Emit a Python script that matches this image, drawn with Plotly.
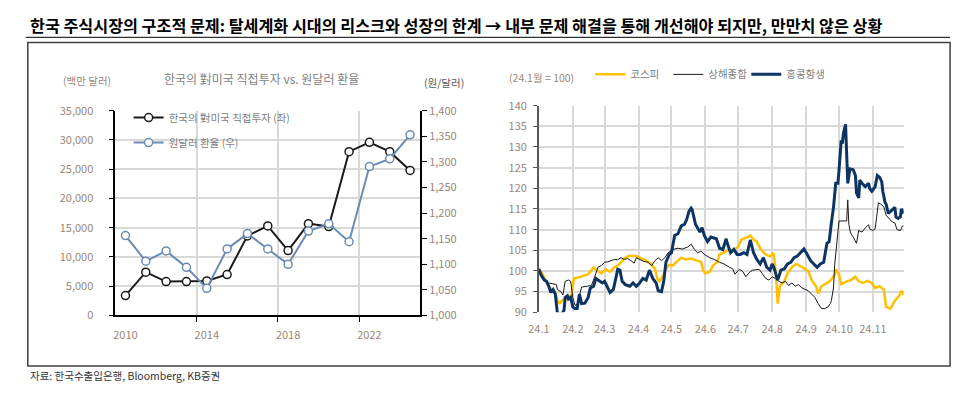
import plotly.graph_objects as go
import pandas as pd

# ---------------- Left chart data ----------------
years = list(range(2010, 2025))
fdi_usd_mn = [3400, 7400, 5800, 5800, 5900, 7000, 13600, 15300, 11100, 15700,
              15200, 28000, 29600, 28000, 24800]
krw_usd = [1156, 1106, 1126, 1094, 1053, 1130, 1160, 1130, 1100, 1165,
           1179, 1144, 1291, 1306, 1353]
left_xtick_years = [2010, 2014, 2018, 2022]
left_grid_years = [2013.5, 2017.5, 2021.5]

# ---------------- Right chart data (days after 2024-01-01, index 24.1 = 100) ----------------
month_ticks = ['2024-01-01', '2024-02-01', '2024-03-01', '2024-04-01', '2024-05-01', '2024-06-01',
               '2024-07-01', '2024-08-01', '2024-09-01', '2024-10-01', '2024-11-01']
month_labels = ['24.1', '24.2', '24.3', '24.4', '24.5', '24.6', '24.7', '24.8', '24.9', '24.10', '24.11']

kospi_day = [0, 3, 6, 9, 12, 15, 17, 19, 23, 27, 30, 32, 36, 41, 45, 48, 50, 53, 57, 61,
             65, 69, 72, 75, 79, 82, 89, 94, 98, 103, 106, 108, 110, 113, 116, 119, 122, 127, 130, 134,
             139, 144, 148, 150, 152, 156, 159, 163, 165, 169, 174, 178, 182, 185, 190, 193, 196, 199, 202, 206,
             211, 214, 215, 217, 218, 220, 224, 227, 231, 235, 239, 243, 246, 249, 253, 255, 258, 261, 266, 270,
             271, 274, 276, 281, 285, 289, 292, 296, 300, 304, 307, 311, 315, 317, 321, 325, 329, 331, 333]
kospi_val = [100.5, 99.4, 97.8, 96.3, 95.5, 94.8, 92.7, 92.2, 93.2, 93.6,
             94.4, 98.2, 98.4, 98.8, 99.2, 100.2, 100.9, 100.2, 99.4, 100.4,
             99.8, 100.9, 101.3, 102.1, 103.2, 103.6, 103.6, 103.0, 102.5, 101.5,
             100.5, 98.2, 97.5, 98.6, 100.5, 101.5, 101.3, 102.5, 103.2, 102.8,
             103.0, 102.5, 102.2, 100.2, 99.4, 99.8, 101.3, 102.2, 104.0, 104.5,
             105.2, 105.0, 105.9, 107.6, 108.1, 108.6, 107.6, 107.1, 105.5, 104.2,
             103.5, 104.4, 103.0, 96.7, 92.1, 96.3, 97.5, 99.4, 100.9, 101.7,
             101.2, 100.5, 99.9, 97.8, 96.3, 94.5, 96.3, 96.8, 97.6, 99.0,
             100.4, 99.2, 96.8, 97.5, 97.8, 98.6, 97.5, 97.1, 97.6, 97.1,
             95.9, 96.3, 95.5, 91.3, 90.9, 92.8, 94.0, 95.2, 94.2]

shanghai_day = [0, 3, 6, 9, 14, 16, 17, 20, 22, 24, 27, 29, 31, 33, 35, 37, 39, 44, 48, 51,
                54, 57, 60, 63, 66, 69, 72, 75, 78, 81, 84, 87, 89, 92, 96, 100, 103, 106, 109, 112,
                115, 118, 122, 127, 131, 136, 139, 142, 145, 148, 151, 156, 160, 165, 169, 174, 177, 179, 183, 186,
                189, 192, 195, 198, 201, 204, 207, 210, 213, 216, 219, 222, 225, 228, 231, 234, 237, 240, 243, 246,
                249, 252, 255, 258, 261, 264, 266, 267, 269, 270, 272, 274, 279, 281, 282, 283, 284, 285, 287, 290,
                292, 295, 298, 301, 302, 305, 307, 310, 313, 315, 317, 319, 322, 325, 327, 330, 332, 333]
shanghai_val = [100.5, 99.0, 97.5, 97.1, 96.8, 96.7, 95.5, 95.0, 94.2, 97.5,
                97.8, 97.5, 93.6, 91.7, 91.9, 94.0, 96.1, 96.3, 96.5, 98.6,
                100.9, 101.3, 102.1, 102.2, 102.5, 102.8, 102.7, 103.2, 102.8, 103.0,
                102.5, 101.9, 103.2, 102.8, 102.3, 102.1, 101.3, 102.5, 103.2, 102.5,
                103.2, 104.4, 105.2, 105.5, 105.3, 105.8, 106.5, 105.2, 104.4, 104.8,
                104.0, 103.2, 102.8, 102.1, 101.7, 100.9, 100.5, 99.2, 100.4, 99.9,
                98.6, 99.6, 100.2, 100.3, 100.4, 99.4, 98.2, 97.8, 98.6, 98.2,
                97.5, 97.1, 97.5, 96.5, 97.1, 96.3, 96.7, 95.9, 95.5, 95.2,
                94.4, 93.6, 92.1, 90.9, 90.9, 91.3, 92.1, 92.8, 95.9, 101.3,
                106.7, 112.1, 112.1, 112.1, 117.2, 111.3, 109.8, 109.0, 108.2, 106.7,
                109.8, 109.4, 110.4, 111.2, 110.2, 109.8, 110.2, 116.5, 116.0, 115.5,
                113.5, 112.9, 112.0, 111.6, 110.0, 109.8, 110.9, 110.9]

hangseng_day = [0, 2, 5, 7, 9, 11, 13, 15, 17, 18, 21, 23, 24, 26, 27, 29, 31, 33, 35, 37,
                39, 42, 45, 47, 50, 52, 54, 56, 58, 60, 63, 65, 68, 71, 72, 74, 76, 79, 83, 86,
                89, 92, 95, 98, 101, 104, 107, 109, 112, 114, 116, 119, 121, 124, 127, 130, 133, 135, 137, 139,
                140, 143, 145, 147, 149, 151, 154, 157, 162, 165, 168, 171, 172, 175, 178, 181, 184, 187, 190, 193,
                196, 199, 202, 205, 208, 211, 213, 215, 218, 221, 224, 227, 230, 233, 236, 239, 242, 245, 248, 251,
                254, 257, 260, 263, 265, 267, 269, 271, 273, 274, 276, 277, 278, 280, 281, 282, 284, 287, 289, 290,
                292, 293, 295, 298, 301, 302, 304, 307, 309, 311, 313, 314, 316, 317, 319, 322, 325, 326, 328, 330,
                331, 333]
hangseng_val = [100.5, 99.0, 97.8, 97.5, 96.3, 94.8, 95.5, 94.4, 89.6, 89.6,
                89.6, 90.5, 93.6, 94.0, 93.2, 93.6, 91.3, 90.9, 90.9, 94.4,
                92.1, 92.2, 93.6, 95.9, 96.3, 98.2, 97.8, 97.5, 97.1, 97.5,
                95.9, 94.8, 95.5, 99.0, 100.4, 100.2, 97.5, 96.7, 96.3, 97.1,
                96.3, 97.1, 98.2, 97.8, 100.2, 98.2, 97.1, 95.2, 95.0, 97.5,
                102.1, 104.0, 104.4, 108.6, 109.0, 110.9, 111.3, 112.5, 114.4, 115.2,
                114.8, 111.3, 110.5, 109.4, 110.5, 108.6, 107.1, 108.2, 107.8, 105.5,
                105.2, 107.8, 106.7, 104.4, 105.2, 104.0, 104.0, 104.4, 104.0, 107.5,
                104.4, 102.8, 101.7, 103.2, 100.9, 100.2, 101.7, 100.5, 97.8, 100.2,
                100.5, 101.7, 102.1, 103.2, 103.6, 104.4, 105.3, 104.0, 102.5, 101.7,
                100.9, 101.7, 102.1, 106.7, 107.1, 111.5, 115.4, 121.2, 121.2, 124.3,
                131.6, 130.8, 133.2, 135.5, 128.0, 121.2, 124.7, 124.5, 123.1, 118.9,
                117.7, 122.0, 121.2, 120.4, 121.2, 120.0, 119.3, 120.4, 123.1, 122.7,
                121.6, 119.3, 116.6, 116.2, 113.9, 114.6, 115.4, 113.1, 112.7, 113.1,
                115.0, 113.9]

base_date = pd.Timestamp('2024-01-01')


def to_dates(days):
    return [base_date + pd.Timedelta(days=d) for d in days]


FONT = 'Noto Sans CJK KR'
TICK_COLOR = '#9a8777'
GRID = '#d9d9d9'

fig = go.Figure()

# Left chart
fig.add_trace(go.Scatter(
    x=years, y=fdi_usd_mn, name='한국의 對미국 직접투자 (좌)', mode='lines+markers',
    line=dict(color='#1a1a1a', width=2),
    marker=dict(symbol='circle', size=8, color='white', line=dict(color='#1a1a1a', width=1.5)),
    xaxis='x', yaxis='y', legend='legend', legendgroup='a'))
fig.add_trace(go.Scatter(
    x=years, y=krw_usd, name='원달러 환율 (우)', mode='lines+markers',
    line=dict(color='#6b8bb3', width=2),
    marker=dict(symbol='circle', size=8, color='white', line=dict(color='#6b8bb3', width=1.5)),
    xaxis='x', yaxis='y2', legend='legend', legendgroup='b'))

# Right chart
fig.add_trace(go.Scatter(
    x=to_dates(kospi_day), y=kospi_val, name='코스피', mode='lines',
    line=dict(color='#FFC000', width=2.5), xaxis='x3', yaxis='y3', legend='legend2'))
fig.add_trace(go.Scatter(
    x=to_dates(shanghai_day), y=shanghai_val, name='상해종합', mode='lines',
    line=dict(color='#1a1a1a', width=1), xaxis='x3', yaxis='y3', legend='legend2'))
fig.add_trace(go.Scatter(
    x=to_dates(hangseng_day), y=hangseng_val, name='홍콩항생', mode='lines',
    line=dict(color='#0c3564', width=3), xaxis='x3', yaxis='y3', legend='legend2'))

W, H = 957, 398


def px(x):
    return x / W


def py(y):
    return 1 - y / H


fig.update_layout(
    width=W, height=H, margin=dict(l=0, r=0, t=0, b=0),
    paper_bgcolor='white', plot_bgcolor='white',
    font=dict(family=FONT, size=11, color=TICK_COLOR),
    xaxis=dict(domain=[px(105.5), px(414)], range=[2009.5, 2024.5], anchor='y',
               tickmode='array', tickvals=left_xtick_years, showgrid=False, ticks='',
               showline=True, linecolor='#000000', linewidth=1.5, zeroline=False,
               ticklabelstandoff=9,
               tickfont=dict(size=11, color=TICK_COLOR),
               minor=dict(tickmode='array', tickvals=left_grid_years, showgrid=True,
                          gridcolor=GRID, gridwidth=1.5, ticks='outside', ticklen=5,
                          tickcolor='#000000', tickwidth=1)),
    yaxis=dict(domain=[py(319.3), py(106)], range=[0, 35000], dtick=5000, tickformat=',',
               showgrid=True, gridcolor=GRID, gridwidth=1.5, zeroline=False,
               showline=True, linecolor='#000000', linewidth=1.5, ticks='outside',
               ticklen=5, tickcolor='#000000', anchor='x', ticklabelstandoff=13,
               tickfont=dict(size=11, color=TICK_COLOR)),
    yaxis2=dict(overlaying='y', side='right', range=[1000, 1400], dtick=50, tickformat=',',
                showgrid=False, zeroline=False, showline=True, linecolor='#000000', linewidth=1.5,
                ticks='outside', ticklen=5, tickcolor='#000000', anchor='x', ticklabelstandoff=0,
                tickfont=dict(size=11, color=TICK_COLOR)),
    xaxis3=dict(domain=[px(534), px(903)], type='date', range=['2024-01-01', '2024-11-29'],
                anchor='y3', tickmode='array', tickvals=month_ticks, ticktext=month_labels,
                showgrid=True, gridcolor=GRID, gridwidth=1.5, showline=False, ticks='',
                zeroline=False, ticklabelstandoff=9, tickfont=dict(size=11, color=TICK_COLOR)),
    yaxis3=dict(domain=[py(316), py(100.7)], range=[90, 140], dtick=5, anchor='x3',
                showgrid=True, gridcolor=GRID, gridwidth=1.5, zeroline=False,
                showline=True, linecolor='#595959', linewidth=1.5, ticks='outside', ticklen=4,
                tickcolor='#595959', ticklabelstandoff=4, tickfont=dict(size=11, color=TICK_COLOR)),
    legend=dict(x=px(119), y=py(98), xanchor='left', yanchor='top', bgcolor='rgba(0,0,0,0)',
                font=dict(size=10.5, color='#808080'), itemwidth=30, tracegroupgap=6),
    legend2=dict(x=px(586), y=py(53), xanchor='left', yanchor='top', orientation='h',
                 bgcolor='rgba(0,0,0,0)', font=dict(size=10.5, color='#808080'), itemwidth=30,
                 entrywidth=33, entrywidthmode='pixels'),
    showlegend=True,
)

# reference line at 100 (horizontal axis crossing)
fig.add_shape(type='line', xref='x3 domain', x0=0, x1=1, yref='y3', y0=100, y1=100,
              line=dict(color='#7f7f7f', width=2), layer='below')
# title underline and frame
fig.add_shape(type='line', xref='paper', yref='paper', x0=px(15), x1=px(950), y0=py(29.5), y1=py(29.5),
              line=dict(color='#000000', width=1))
fig.add_shape(type='rect', xref='paper', yref='paper', x0=px(17), x1=px(950), y0=py(372), y1=py(35),
              line=dict(color='#404040', width=1.5))

annos = [
    dict(x=px(17), y=py(16.5), text='<b>한국 주식시장의 구조적 문제: 탈세계화 시대의 리스크와 성장의 한계 → 내부 문제 해결을 통해 개선해야 되지만, 만만치 않은 상황</b>',
         xanchor='left', yanchor='middle', font=dict(size=16.2, color='#000000')),
    dict(x=px(253), y=py(72.5), text='한국의 對미국 직접투자 vs. 원달러 환율', xanchor='center', yanchor='middle',
         font=dict(size=12, color='#7f7f7f')),
    dict(x=px(77), y=py(75), text='(백만 달러)', xanchor='center', yanchor='middle',
         font=dict(size=10.5, color=TICK_COLOR)),
    dict(x=px(438), y=py(77), text='(원/달러)', xanchor='center', yanchor='middle',
         font=dict(size=10.5, color='#595959')),
    dict(x=px(537), y=py(71), text='(24.1월 = 100)', xanchor='center', yanchor='middle',
         font=dict(size=10.5, color=TICK_COLOR)),
    dict(x=px(17), y=py(382), text='자료: 한국수출입은행, Bloomberg, KB증권', xanchor='left', yanchor='middle',
         font=dict(size=10.5, color='#333333')),
]
for a in annos:
    fig.add_annotation(xref='paper', yref='paper', showarrow=False, **a)

fig.write_html('out.html', post_script="document.body.style.margin='0';",
               config={'displayModeBar': False})
